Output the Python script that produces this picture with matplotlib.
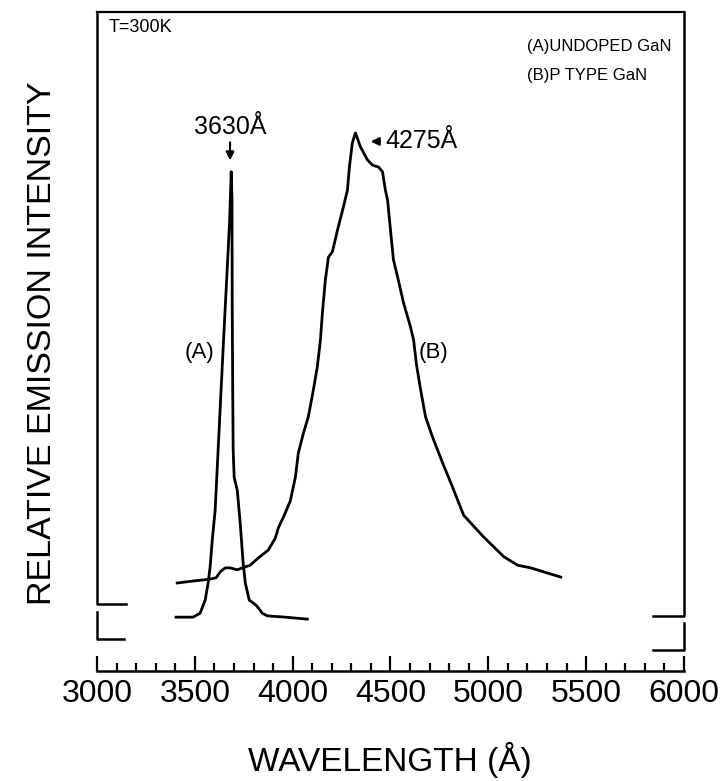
import matplotlib.pyplot as plt
from matplotlib.ticker import MultipleLocator

# curve (A) undoped GaN
wavelength_a = [3404, 3491, 3527, 3553, 3568, 3578, 3589, 3604, 3619, 3645, 3666, 3678, 3686,
                3690, 3691, 3694, 3696, 3701, 3717, 3732, 3747, 3758, 3778, 3814, 3845, 3870,
                3962, 4075]
intensity_a = [8.2, 8.2, 8.8, 10.8, 13.4, 15.8, 19.9, 24.5, 33.6, 49.3, 61.5, 68.6, 76.0,
               71.7, 56.5, 41.2, 33.6, 29.5, 27.5, 22.5, 16.4, 13.4, 10.8, 10.0, 8.8, 8.4,
               8.2, 7.9]

# curve (B) p type GaN
wavelength_b = [3410, 3491, 3553, 3578, 3609, 3630, 3655, 3681, 3717, 3742, 3783, 3824, 3875,
                3911, 3927, 3957, 3988, 4014, 4029, 4055, 4080, 4106, 4126, 4142, 4152, 4167,
                4183, 4203, 4229, 4259, 4280, 4290, 4305, 4321, 4346, 4382, 4408, 4439, 4459,
                4474, 4485, 4500, 4515, 4536, 4567, 4602, 4618, 4633, 4654, 4679, 4715, 4766,
                4817, 4874, 4976, 5079, 5150, 5217, 5304, 5370]
intensity_b = [13.4, 13.7, 13.9, 14.0, 14.2, 15.1, 15.7, 15.7, 15.4, 15.7, 16.1, 17.2, 18.4,
               20.2, 21.8, 23.7, 25.9, 29.5, 33.2, 36.2, 38.7, 42.8, 46.3, 50.4, 54.5, 59.5,
               63.0, 63.8, 67.1, 70.6, 73.2, 76.7, 80.4, 81.9, 79.8, 77.8, 77.0, 76.7, 76.0,
               73.2, 71.7, 67.1, 62.6, 60.0, 56.0, 52.4, 50.4, 46.6, 42.8, 38.7, 35.6, 31.7,
               28.0, 23.7, 20.4, 17.4, 16.1, 15.7, 14.9, 14.3]

x_ticks = [3000, 3500, 4000, 4500, 5000, 5500, 6000]

plt.rcParams['font.family'] = ['Liberation Sans', 'DejaVu Sans']

fig = plt.figure(figsize=(7.2, 7.81), dpi=100)
ax = fig.add_axes([0.1347, 0.1408, 0.8153, 0.8438])

ax.plot(wavelength_a, intensity_a, color='black', lw=2.0, solid_joinstyle='round')
ax.plot(wavelength_b, intensity_b, color='black', lw=2.0, solid_joinstyle='round')

ax.set_xlim(3000, 6000)
ax.set_ylim(0, 100.3)

# frame: top + bottom spine, broken side lines drawn by hand
ax.spines['left'].set_visible(False)
ax.spines['right'].set_visible(False)
ax.spines['top'].set_linewidth(1.6)
ax.spines['bottom'].set_linewidth(1.8)
side = dict(color='black', lw=1.8, transform=ax.transAxes, clip_on=False)
ax.plot([0, 0, 0.049], [1.0, 0.1017, 0.1017], **side)
ax.plot([0, 0, 0.046], [0.0895, 0.0486, 0.0486], **side)
ax.plot([1, 1, 0.947], [1.0, 0.0835, 0.0835], **side)
ax.plot([1, 1, 0.947], [0.0728, 0.0319, 0.0319], **side)

ax.set_xticks(x_ticks)
ax.set_xticklabels([str(t) for t in x_ticks])
ax.xaxis.set_minor_locator(MultipleLocator(100))
ax.tick_params(axis='x', which='major', direction='in', length=11, width=1.6,
               labelsize=23, pad=6)
ax.tick_params(axis='x', which='minor', direction='in', length=6, width=1.6)
ax.set_yticks([])

fig.text(390 / 720, 1 - 760 / 781, 'WAVELENGTH (Å)', fontsize=24, ha='center', va='center')
fig.text(43 / 720, 1 - 343 / 781, 'RELATIVE EMISSION INTENSITY', fontsize=24.5,
         rotation=90, ha='center', va='center')

ax.text(3060, 98.0, 'T=300K', fontsize=13, ha='left', va='center')
ax.text(5200, 95.0, '(A)UNDOPED GaN', fontsize=12, ha='left', va='center')
ax.text(5200, 90.7, '(B)P TYPE GaN', fontsize=12, ha='left', va='center')

ax.text(3680, 82.8, '3630Å', fontsize=18, ha='center', va='center')
ax.annotate('', xy=(3680, 77.3), xytext=(3680, 80.9),
            arrowprops=dict(arrowstyle='-|>', color='black', lw=1.5, mutation_scale=12))
ax.annotate('4275Å', xy=(4385, 80.6), xytext=(4475, 80.6), fontsize=18, va='center',
            arrowprops=dict(arrowstyle='-|>', color='black', lw=1.5, mutation_scale=12))

ax.text(3525, 48.5, '(A)', fontsize=16, ha='center', va='center')
ax.text(4722, 48.5, '(B)', fontsize=16, ha='center', va='center')

fig.savefig('out.png', dpi=100)
